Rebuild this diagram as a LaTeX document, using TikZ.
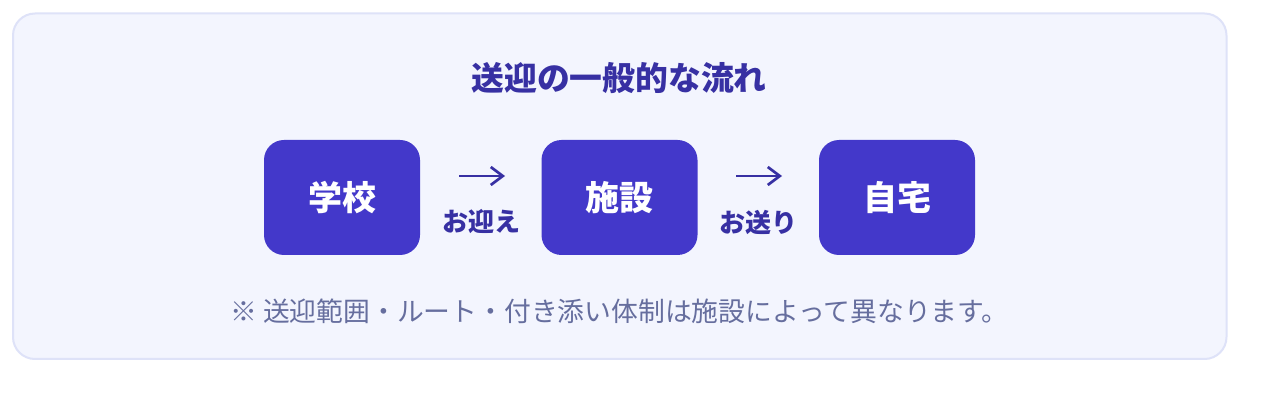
\documentclass[tikz,border=0pt]{standalone}
\usepackage{fontspec}
\setmainfont{Noto Sans CJK JP}
\usetikzlibrary{arrows.meta}
\definecolor{panelfill}{HTML}{F3F5FE}
\definecolor{panelline}{HTML}{DEE2F8}
\definecolor{boxfill}{HTML}{4338CA}
\definecolor{titlecol}{HTML}{3730A3}
\definecolor{labelcol}{HTML}{3730A3}
\definecolor{notecol}{HTML}{666E9E}
\begin{document}
\begin{tikzpicture}[x=0.75pt,y=-0.75pt,
  stepbox/.style={fill=boxfill,rounded corners=15pt,minimum width=117pt,minimum height=86.25pt,inner sep=0pt,text=white,font=\bfseries\fontsize{25.5pt}{25.5pt}\selectfont},
  steplabel/.style={text=labelcol,inner sep=0pt,font=\bfseries\fontsize{19.5pt}{19.5pt}\selectfont},
  flowarrow/.style={draw=labelcol,line width=2pt,-{Straight Barb[length=9pt,width=13.5pt,line width=2pt]}}]
\useasboundingbox (0,0) rectangle (1264,420);
\fill[white] (0,0) rectangle (1264,420);
\draw[panelline,fill=panelfill,line width=1.5pt,rounded corners=16.5pt] (13,13.5) rectangle (1226.5,359);
\node[text=titlecol,inner sep=0pt,font=\bfseries\fontsize{24.6pt}{24.6pt}\selectfont] (title) at (619,78) {送迎の一般的な流れ};
\node[stepbox] (school) at (342,197.5) {学校};
\node[stepbox] (facility) at (619.5,197.5) {施設};
\node[stepbox] (home) at (897,197.5) {自宅};
\coordinate (a1s) at (459,176);
\coordinate (a1e) at (505,176);
\coordinate (a2s) at (736,176);
\coordinate (a2e) at (782,176);
\draw[flowarrow] (a1s) -- (a1e);
\draw[flowarrow] (a2s) -- (a2e);
\node[steplabel] (pickup) at (481.5,222) {お迎え};
\node[steplabel] (dropoff) at (758.5,222) {お送り};
\node[text=notecol,inner sep=0pt,font=\fontsize{20.1pt}{20.1pt}\selectfont] (note) at (619.5,311) {※ 送迎範囲・ルート・付き添い体制は施設によって異なります。};
\end{tikzpicture}
\end{document}
